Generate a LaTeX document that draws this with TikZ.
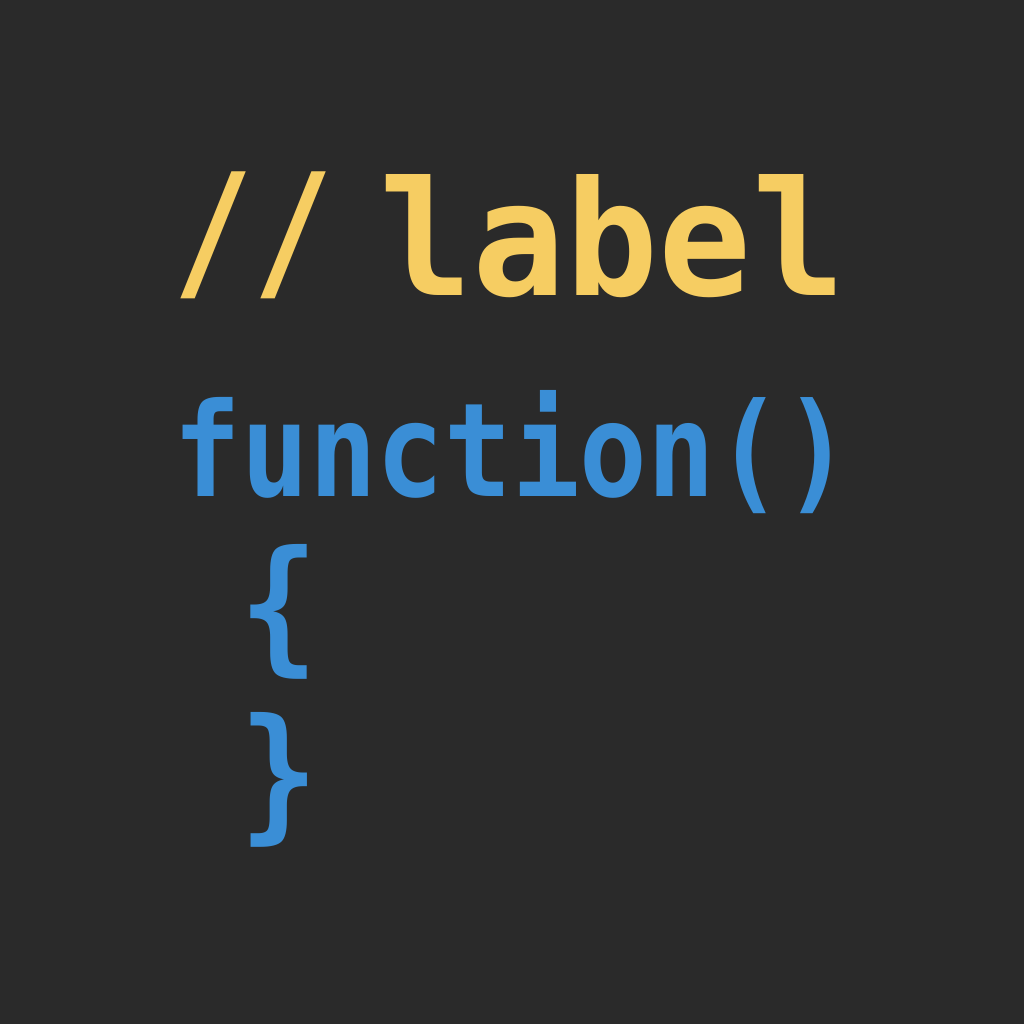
\documentclass[tikz,border=0pt]{standalone}
\usepackage{fontspec}
\setmonofont{DejaVu Sans Mono}
\usetikzlibrary{positioning}
\definecolor{bgdark}{HTML}{2A2A2A}
\definecolor{cmtyellow}{HTML}{F6CD62}
\definecolor{kwblue}{HTML}{3A8ED6}

\begin{document}
\begin{tikzpicture}[
        comment/.style={text=cmtyellow, inner sep=0pt, font=\ttfamily\bfseries\fontsize{44}{44}\selectfont},
        code/.style={text=kwblue, inner sep=0pt, font=\ttfamily\bfseries\fontsize{32}{32}\selectfont}]
        \fill [bgdark] (0,0) rectangle (10.24,-10.24);
        \useasboundingbox (0,0) rectangle (10.24,-10.24);

        \node [comment, anchor=base west, xscale=0.86, transform shape] (slash) at (1.73,-2.84) {//};
        \node [comment, anchor=base west, yscale=1.03, transform shape] (label) at (3.79,-2.95) {label};
        \node [code, anchor=base west, yscale=1.16, transform shape] (func) at (1.73,-4.96) {function()};
        \node [code, xscale=1.17, yscale=1.3, transform shape] (lbrace) at (2.79,-6.12) {\{};
        \node [code, xscale=1.17, yscale=1.3, transform shape] (rbrace) at (2.79,-7.80) {\}};
    \end{tikzpicture}
\end{document}
